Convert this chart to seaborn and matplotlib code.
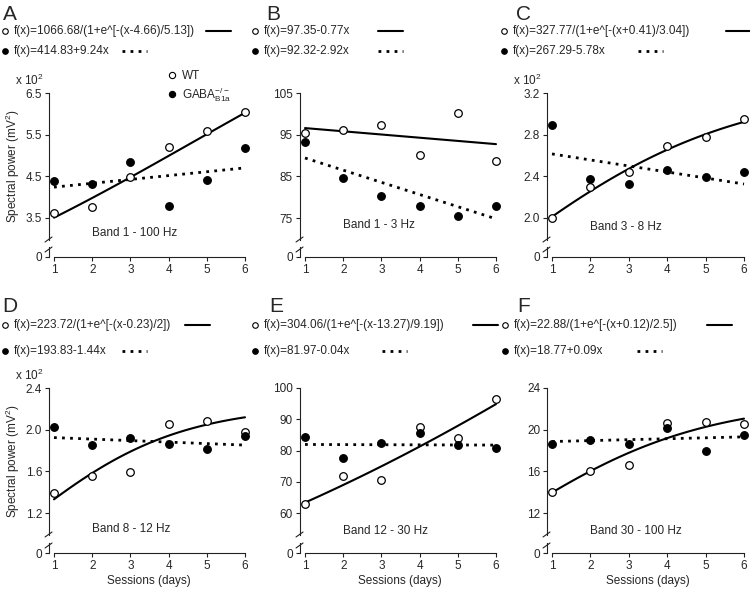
import numpy as np
import seaborn as sns
import matplotlib
matplotlib.use('Agg')
import matplotlib.pyplot as plt
from matplotlib.lines import Line2D

sns.set_theme(style='ticks')
plt.rcParams['font.family'] = ['Liberation Sans', 'DejaVu Sans']
plt.rcParams['mathtext.fontset'] = 'custom'
plt.rcParams['mathtext.rm'] = 'Liberation Sans'
plt.rcParams['mathtext.it'] = 'Liberation Sans:italic'
plt.rcParams['mathtext.bf'] = 'Liberation Sans:bold'

W, H = 750, 593
FS = 8.5
INK = '#222222'

# ---- data ----
days = [1, 2, 3, 4, 5, 6]
letters = ['A', 'B', 'C', 'D', 'E', 'F']
bands = ['Band 1 - 100 Hz', 'Band 1 - 3 Hz', 'Band 3 - 8 Hz',
         'Band 8 - 12 Hz', 'Band 12 - 30 Hz', 'Band 30 - 100 Hz']

wt_A = [3.62, 3.76, 4.48, 5.20, 5.60, 6.04]
gaba_A = [4.38, 4.32, 4.84, 3.80, 4.40, 5.18]
wt_B = [95.4, 96.1, 97.3, 90.2, 100.3, 88.8]
gaba_B = [93.2, 84.6, 80.3, 77.9, 75.6, 77.9]
wt_C = [2.00, 2.30, 2.44, 2.69, 2.78, 2.95]
gaba_C = [2.89, 2.37, 2.33, 2.46, 2.39, 2.44]
wt_D = [1.39, 1.56, 1.59, 2.05, 2.08, 1.98]
gaba_D = [2.03, 1.85, 1.92, 1.86, 1.81, 1.94]
wt_E = [62.8, 71.7, 70.6, 87.4, 84.0, 96.4]
gaba_E = [84.3, 77.5, 82.5, 85.7, 81.9, 80.7]
wt_F = [14.0, 16.0, 16.6, 20.6, 20.7, 20.5]
gaba_F = [18.6, 19.0, 18.6, 20.2, 18.0, 19.5]

wt_data = [wt_A, wt_B, wt_C, wt_D, wt_E, wt_F]
gaba_data = [gaba_A, gaba_B, gaba_C, gaba_D, gaba_E, gaba_F]

# fitted curves as printed in the figure (raw units)
wt_fits = [('sig', 1066.68, 4.66, 5.13), ('lin', 97.35, -0.77),
           ('sig', 327.77, -0.41, 3.04), ('sig', 223.72, 0.23, 2.0),
           ('sig', 304.06, 13.27, 9.19), ('sig', 22.88, -0.12, 2.5)]
gaba_fits = [(414.83, 9.24), (92.32, -2.92), (267.29, -5.78),
             (193.83, -1.44), (81.97, -0.04), (18.77, 0.09)]
scales = [100, 1, 100, 100, 1, 1]

wt_labels = ['f(x)=1066.68/(1+e^[-(x-4.66)/5.13])', 'f(x)=97.35-0.77x',
             'f(x)=327.77/(1+e^[-(x+0.41)/3.04])', 'f(x)=223.72/(1+e^[-(x-0.23)/2])',
             'f(x)=304.06/(1+e^[-(x-13.27)/9.19])', 'f(x)=22.88/(1+e^[-(x+0.12)/2.5])']
gaba_labels = ['f(x)=414.83+9.24x', 'f(x)=92.32-2.92x', 'f(x)=267.29-5.78x',
               'f(x)=193.83-1.44x', 'f(x)=81.97-0.04x', 'f(x)=18.77+0.09x']

yticks = [[3.5, 4.5, 5.5, 6.5], [75, 85, 95, 105], [2.0, 2.4, 2.8, 3.2],
          [1.2, 1.6, 2.0, 2.4], [60, 70, 80, 90, 100], [12, 16, 20, 24]]
yfmt = ['{:.1f}', '{:.0f}', '{:.1f}', '{:.1f}', '{:.0f}', '{:.0f}']
times100 = [True, False, True, True, False, False]

# ---- layout (pixels) ----
col_x1 = [54, 305, 552]
col_x6 = [245, 496, 744]
row_top = [93, 388]
row_low = [218, 513]
row_main_bot = [240, 535]
row_sub_top = [247, 543]
row_axis = [257, 553]
row_leg = [(31, 51), (325, 351)]
XMIN, XMAX = 0.87, 6.12

letter_x = [3, 266, 516, 2, 269, 517]
letter_y = [15, 307]
circ_x = [5, 255, 504, 5, 255, 505]
solid_x = [206, 378, 726, 185, 473, 707]
dot_x = [122, 378, 638, 122, 382, 637]
band_y = [0.05, 0.10, 0.09, 0.04, 0.03, 0.03]

DOTS = (0, (1, 1.9))


def fx(px):
    return px / W


def fy(py):
    return 1 - py / H


def evaluate(fit, xs):
    if fit[0] == 'sig':
        a, x0, b = fit[1:]
        return a / (1 + np.exp(-(xs - x0) / b))
    return fit[1] + fit[2] * xs


fig = plt.figure(figsize=(W / 100, H / 100), dpi=100)
xs = np.linspace(1, 6, 80)

for i in range(6):
    r, c = divmod(i, 3)
    k = (col_x6[c] - col_x1[c]) / 5
    left = col_x1[c] - (1 - XMIN) * k
    right = col_x1[c] + (XMAX - 1) * k
    wpx = right - left

    main = fig.add_axes([fx(left), fy(row_main_bot[r]), wpx / W,
                         (row_main_bot[r] - row_top[r]) / H])
    sub = fig.add_axes([fx(left), fy(row_axis[r]), wpx / W,
                        (row_axis[r] - row_sub_top[r]) / H])

    yt = yticks[i]
    per_px = (yt[-1] - yt[0]) / (row_low[r] - row_top[r])
    main.set_ylim(yt[0] - (row_main_bot[r] - row_low[r]) * per_px, yt[-1])
    main.set_xlim(XMIN, XMAX)

    sc = scales[i]
    sns.lineplot(x=xs, y=evaluate(wt_fits[i], xs) / sc, ax=main,
                 color='black', lw=1.5, zorder=2)
    sns.lineplot(x=xs, y=(gaba_fits[i][0] + gaba_fits[i][1] * xs) / sc, ax=main,
                 color='black', lw=2.0, linestyle=DOTS, zorder=2)
    sns.scatterplot(x=days, y=wt_data[i], ax=main, color='white',
                    edgecolor='black', linewidth=0.9, s=30, zorder=3, clip_on=False)
    sns.scatterplot(x=days, y=gaba_data[i], ax=main, color='black',
                    edgecolor='black', linewidth=0.9, s=30, zorder=3, clip_on=False)

    main.set_yticks(yt)
    main.set_yticklabels([yfmt[i].format(v) for v in yt])
    main.set_xlabel('')
    main.set_ylabel('')
    for s in ['top', 'right', 'bottom']:
        main.spines[s].set_visible(False)
    main.spines['left'].set_color(INK)
    main.spines['left'].set_linewidth(0.8)
    main.tick_params(axis='x', bottom=False, labelbottom=False)
    main.tick_params(axis='y', direction='out', length=3, width=0.8,
                     color=INK, labelsize=FS, pad=2)
    main.patch.set_alpha(0)

    sub.set_xlim(XMIN, XMAX)
    sub.set_ylim(0, 1)
    sub.set_yticks([0])
    sub.set_yticklabels(['0'])
    sub.set_xticks(days)
    sub.set_xticklabels([str(d) for d in days])
    for s in ['top', 'right']:
        sub.spines[s].set_visible(False)
    for s in ['left', 'bottom']:
        sub.spines[s].set_color(INK)
        sub.spines[s].set_linewidth(0.8)
    sub.spines['bottom'].set_bounds(1, 6)
    sub.tick_params(direction='out', length=3, width=0.8, color=INK,
                    labelsize=FS, pad=2)
    sub.patch.set_alpha(0)
    if r == 1:
        sub.set_xlabel('Sessions (days)', fontsize=FS)
        sub.xaxis.set_label_coords(0.5, -2.2)

    # axis break marks
    sx = left
    for (x0, y0, x1, y1) in [(sx - 4, row_main_bot[r] + 2, sx + 3, row_main_bot[r] - 3),
                             (sx - 4, row_sub_top[r] + 5, sx + 3, row_sub_top[r])]:
        fig.add_artist(Line2D([fx(x0), fx(x1)], [fy(y0), fy(y1)],
                              color=INK, lw=0.8, transform=fig.transFigure))

    # band label
    main.text(2.0, band_y[i], bands[i], transform=main.get_xaxis_transform(),
              fontsize=FS, ha='left', va='center')

    if times100[i]:
        main.annotate('x 10$^2$', xy=(0, 1), xycoords='axes fraction',
                      xytext=(-5, 8), textcoords='offset pixels',
                      ha='right', va='baseline', fontsize=FS)

    # panel letter
    fig.text(fx(letter_x[i]), fy(letter_y[r]), letters[i], fontsize=15,
             ha='left', va='center')

    # fit legend
    ly1, ly2 = row_leg[r]
    cx = circ_x[i]
    fig.add_artist(Line2D([fx(cx)], [fy(ly1)], marker='o', ms=4, mfc='white',
                          mec='black', mew=0.8, ls='none', transform=fig.transFigure))
    fig.add_artist(Line2D([fx(cx)], [fy(ly2)], marker='o', ms=4, mfc='black',
                          mec='black', mew=0.8, ls='none', transform=fig.transFigure))
    fig.text(fx(cx + 9), fy(ly1), wt_labels[i], fontsize=FS, va='center', ha='left')
    fig.text(fx(cx + 9), fy(ly2), gaba_labels[i], fontsize=FS, va='center', ha='left')
    fig.add_artist(Line2D([fx(solid_x[i]), fx(solid_x[i] + 25)], [fy(ly1), fy(ly1)],
                          color='black', lw=1.5, transform=fig.transFigure))
    fig.add_artist(Line2D([fx(dot_x[i]), fx(dot_x[i] + 25)], [fy(ly2), fy(ly2)],
                          color='black', lw=2.0, ls=DOTS, transform=fig.transFigure))

    if i == 0:
        handles = [Line2D([], [], marker='o', ms=4.5, mfc='white', mec='black',
                          mew=0.8, ls='none'),
                   Line2D([], [], marker='o', ms=4.5, mfc='black', mec='black',
                          mew=0.8, ls='none')]
        main.legend(handles, ['WT', r'GABA$_{\mathregular{B1a}}^{\mathregular{-/-}}$'],
                    loc='upper left', bbox_to_anchor=(fx(167), fy(70)),
                    bbox_transform=fig.transFigure, frameon=False, fontsize=FS,
                    handlelength=0.8, handletextpad=0.5, borderpad=0,
                    borderaxespad=0, labelspacing=0.25)

    if c == 0:
        fig.text(fx(13), fy((row_top[r] + row_main_bot[r]) / 2),
                 'Spectral power (mV$^2$)', rotation=90, fontsize=FS,
                 ha='center', va='center')

fig.savefig('out.png', dpi=100)
